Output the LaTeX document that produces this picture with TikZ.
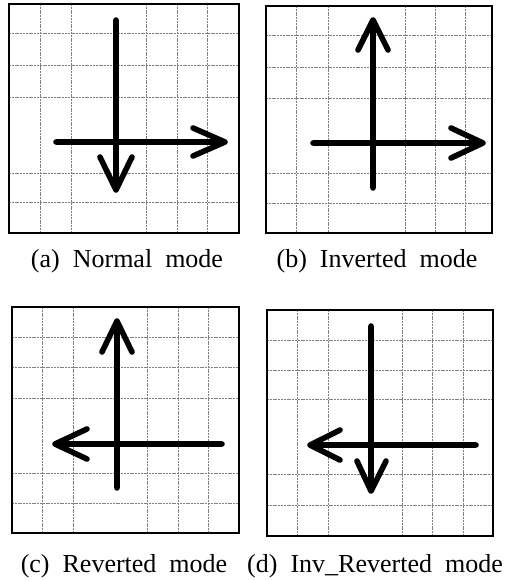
\documentclass[tikz,border=0pt]{standalone}
\usepackage{fontspec}
\setmainfont{Liberation Serif}
\begin{document}
\begin{tikzpicture}[x=1pt,y=-1pt,
  frame/.style={draw=black,line width=2.6pt},
  gridln/.style={draw=black!50,line width=0.7pt,dash pattern=on 2pt off 0.8pt},
  arr/.style={draw=black,line width=5.6pt,line cap=round,line join=round},
  captext/.style={anchor=base,inner sep=0pt,font=\fontsize{26}{31}\selectfont}]
\useasboundingbox (0,0) rectangle (506,580);
% ---- panel (a)
\foreach \x in {40,71,146,177,207} \draw[gridln] (\x,4) -- (\x,233);
\foreach \y in {33,65,97,173,202} \draw[gridln] (9,\y) -- (239,\y);
\draw[frame] (9,4) rectangle (239,233);
\coordinate (atipv) at (116,190);
\coordinate (atiph) at (225,142);
\draw[arr] (116,20) -- (atipv) (100,157) -- (atipv) -- (132,157);
\draw[arr] (56,142) -- (atiph) (193,128) -- (atiph) -- (193,156);
\node[captext] (capa) at (127,267) {(a)\ \ Normal\ \ mode};
% ---- panel (b)
\foreach \x in {296,328,405,435,465} \draw[gridln] (\x,6) -- (\x,233);
\foreach \y in {35,67,98,173,203} \draw[gridln] (266,\y) -- (492,\y);
\draw[frame] (266,6) rectangle (492,233);
\coordinate (btipv) at (373,20);
\coordinate (btiph) at (483,143);
\draw[arr] (373,188) -- (btipv) (358,50) -- (btipv) -- (388,50);
\draw[arr] (313,143) -- (btiph) (451,128) -- (btiph) -- (451,158);
\node[captext] (capb) at (377,267) {(b)\ \ Inverted\ \ mode};
% ---- panel (c)
\foreach \x in {42,73,147,178,208} \draw[gridln] (\x,307) -- (\x,533);
\foreach \y in {337,367,398,473,503} \draw[gridln] (12,\y) -- (239,\y);
\draw[frame] (12,307) rectangle (239,533);
\coordinate (ctipv) at (117,321);
\coordinate (ctiph) at (55,444);
\draw[arr] (117,488) -- (ctipv) (102,352) -- (ctipv) -- (132,352);
\draw[arr] (222,444) -- (ctiph) (87,429) -- (ctiph) -- (87,459);
\node[captext] (capc) at (124,572) {(c)\ \ Reverted\ \ mode};
% ---- panel (d)
\foreach \x in {297,328,402,432,463} \draw[gridln] (\x,310) -- (\x,536);
\foreach \y in {340,370,399,474,505} \draw[gridln] (267,\y) -- (493,\y);
\draw[frame] (267,310) rectangle (493,536);
\coordinate (dtipv) at (371,491);
\coordinate (dtiph) at (310,445);
\draw[arr] (371,326) -- (dtipv) (357,461) -- (dtipv) -- (386,461);
\draw[arr] (476,445) -- (dtiph) (340,430) -- (dtiph) -- (340,460);
\node[captext,anchor=base east] (capd) at (503,572) {(d)\ \ Inv\_Reverted\ \ mode};
\end{tikzpicture}
\end{document}
